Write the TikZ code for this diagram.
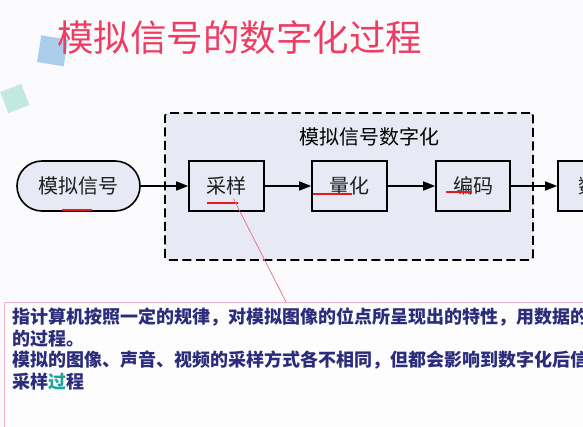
\documentclass[tikz,border=0pt]{standalone}
\usepackage{fontspec}
\setmainfont{Noto Sans CJK SC}
\usepackage{tikz}
\usetikzlibrary{arrows.meta, positioning, calc}

\definecolor{titlered}{HTML}{EE3D62}
\definecolor{boxfill}{HTML}{E7E9F4}
\definecolor{notenavy}{HTML}{2C2C7C}
\definecolor{noteteal}{HTML}{1FA3A0}
\definecolor{notepink}{HTML}{F2B3C6}
\definecolor{markred}{HTML}{E31B1B}
\definecolor{leaderpink}{HTML}{E0708E}
\definecolor{sqblue}{HTML}{A9CDEA}
\definecolor{sqmint}{HTML}{C3E8E1}
\definecolor{pagebg}{HTML}{FBFBFD}

\begin{document}
\begin{tikzpicture}[
        x=1pt, y=-1pt,
        font=\fontsize{20}{24}\selectfont,
        >={Triangle[length=12pt, width=9pt]},
        stage/.style ={draw, line width=1.6pt, fill=boxfill, minimum height=50pt,
                inner sep=0pt, text=black!88},
        pill/.style  ={stage, rounded corners=25pt},
        group/.style ={draw, dash pattern=on 9pt off 4.5pt, line width=1.8pt,
                rounded corners=3pt, fill=boxfill, inner sep=0pt},
        flow/.style  ={->, line width=1.5pt},
        uline/.style ={draw=markred, line width=2.2pt},
        lead/.style  ={draw=leaderpink, line width=0.7pt},
        head/.style  ={font=\fontsize{36.5}{40}\selectfont, text=titlered, inner sep=0pt}
    ]

    % page is 583 x 427, y grows downwards
    \useasboundingbox (0,0) rectangle (583,427);
    \clip (0,0) rectangle (583,427);
    \fill[pagebg] (0,0) rectangle (583,427);

    %% --- slide decoration + title ---
    \fill[sqblue, rotate around={-9:(52.5,50.8)}] (39,37.3) rectangle (66,64.3);
    \fill[sqmint, rotate around={21:(14.8,98.5)}] (3.5,87.2) rectangle (26,109.8);
    \node[head, anchor=west] (title) at (57,38) {模拟信号的数字化过程};

    %% --- dashed group ---
    \node[group, minimum width=368pt, minimum height=147pt] (grp) at (349,186.5) {};
    \node (grptitle) at (369.5,137) {模拟信号数字化};

    %% --- stages ---
    \node[pill,  minimum width=123pt] (analog) at (78.5,186)  {模拟信号};
    \node[stage, minimum width=75pt]  (samp)   at (226.5,186) {采样};
    \node[stage, minimum width=75pt]  (quant)  at (349.5,186) {量化};
    \node[stage, minimum width=74pt]  (code)   at (473,186)   {编码};
    \node[stage, minimum width=120pt] (dig)    at (618,186)   {数字信号};

    \draw[flow] (analog) -- (samp);
    \draw[flow] (samp)   -- (quant);
    \draw[flow] (quant)  -- (code);
    \draw[flow] (code)   -- (dig);

    %% red pen marks under the labels
    \draw[uline] ([xshift=-16.5pt,yshift=2pt]analog.south) -- ([xshift=13.5pt,yshift=2pt]analog.south);
    \draw[uline] ([xshift=-19.5pt,yshift=9pt]samp.south)   -- ([xshift=11.5pt,yshift=9pt]samp.south);
    \draw[uline] ([xshift=-36.5pt,yshift=18pt]quant.south) -- ([xshift=2.5pt,yshift=18pt]quant.south);
    \draw[uline] ([xshift=-27pt,yshift=20pt]code.south)    -- ([xshift=-1pt,yshift=20pt]code.south);

    %% --- comment box (runs off the page) ---
    \node[draw=notepink, line width=1.2pt, fill=white!60!pagebg, inner sep=0pt,
          minimum width=640pt, minimum height=160pt, anchor=north west] (note) at (4,302) {};
    \node[anchor=north west, align=left, inner sep=0pt, text=notenavy,
          font=\bfseries\fontsize{18}{21.5}\selectfont] (notetext)
          at ([xshift=8pt,yshift=-6pt]note.north west)
          {指计算机按照一定的规律，对模拟图像的位点所呈现出的特性，用数据的\\
           的过程。\\
           模拟的图像、声音、视频的采样方式各不相同，但都会影响到数字化后信\\
           采样\textcolor{noteteal}{过}程};
    \draw[lead] ([xshift=7pt,yshift=13pt]samp.south) -- ([xshift=282pt]note.north west);

\end{tikzpicture}
\end{document}
